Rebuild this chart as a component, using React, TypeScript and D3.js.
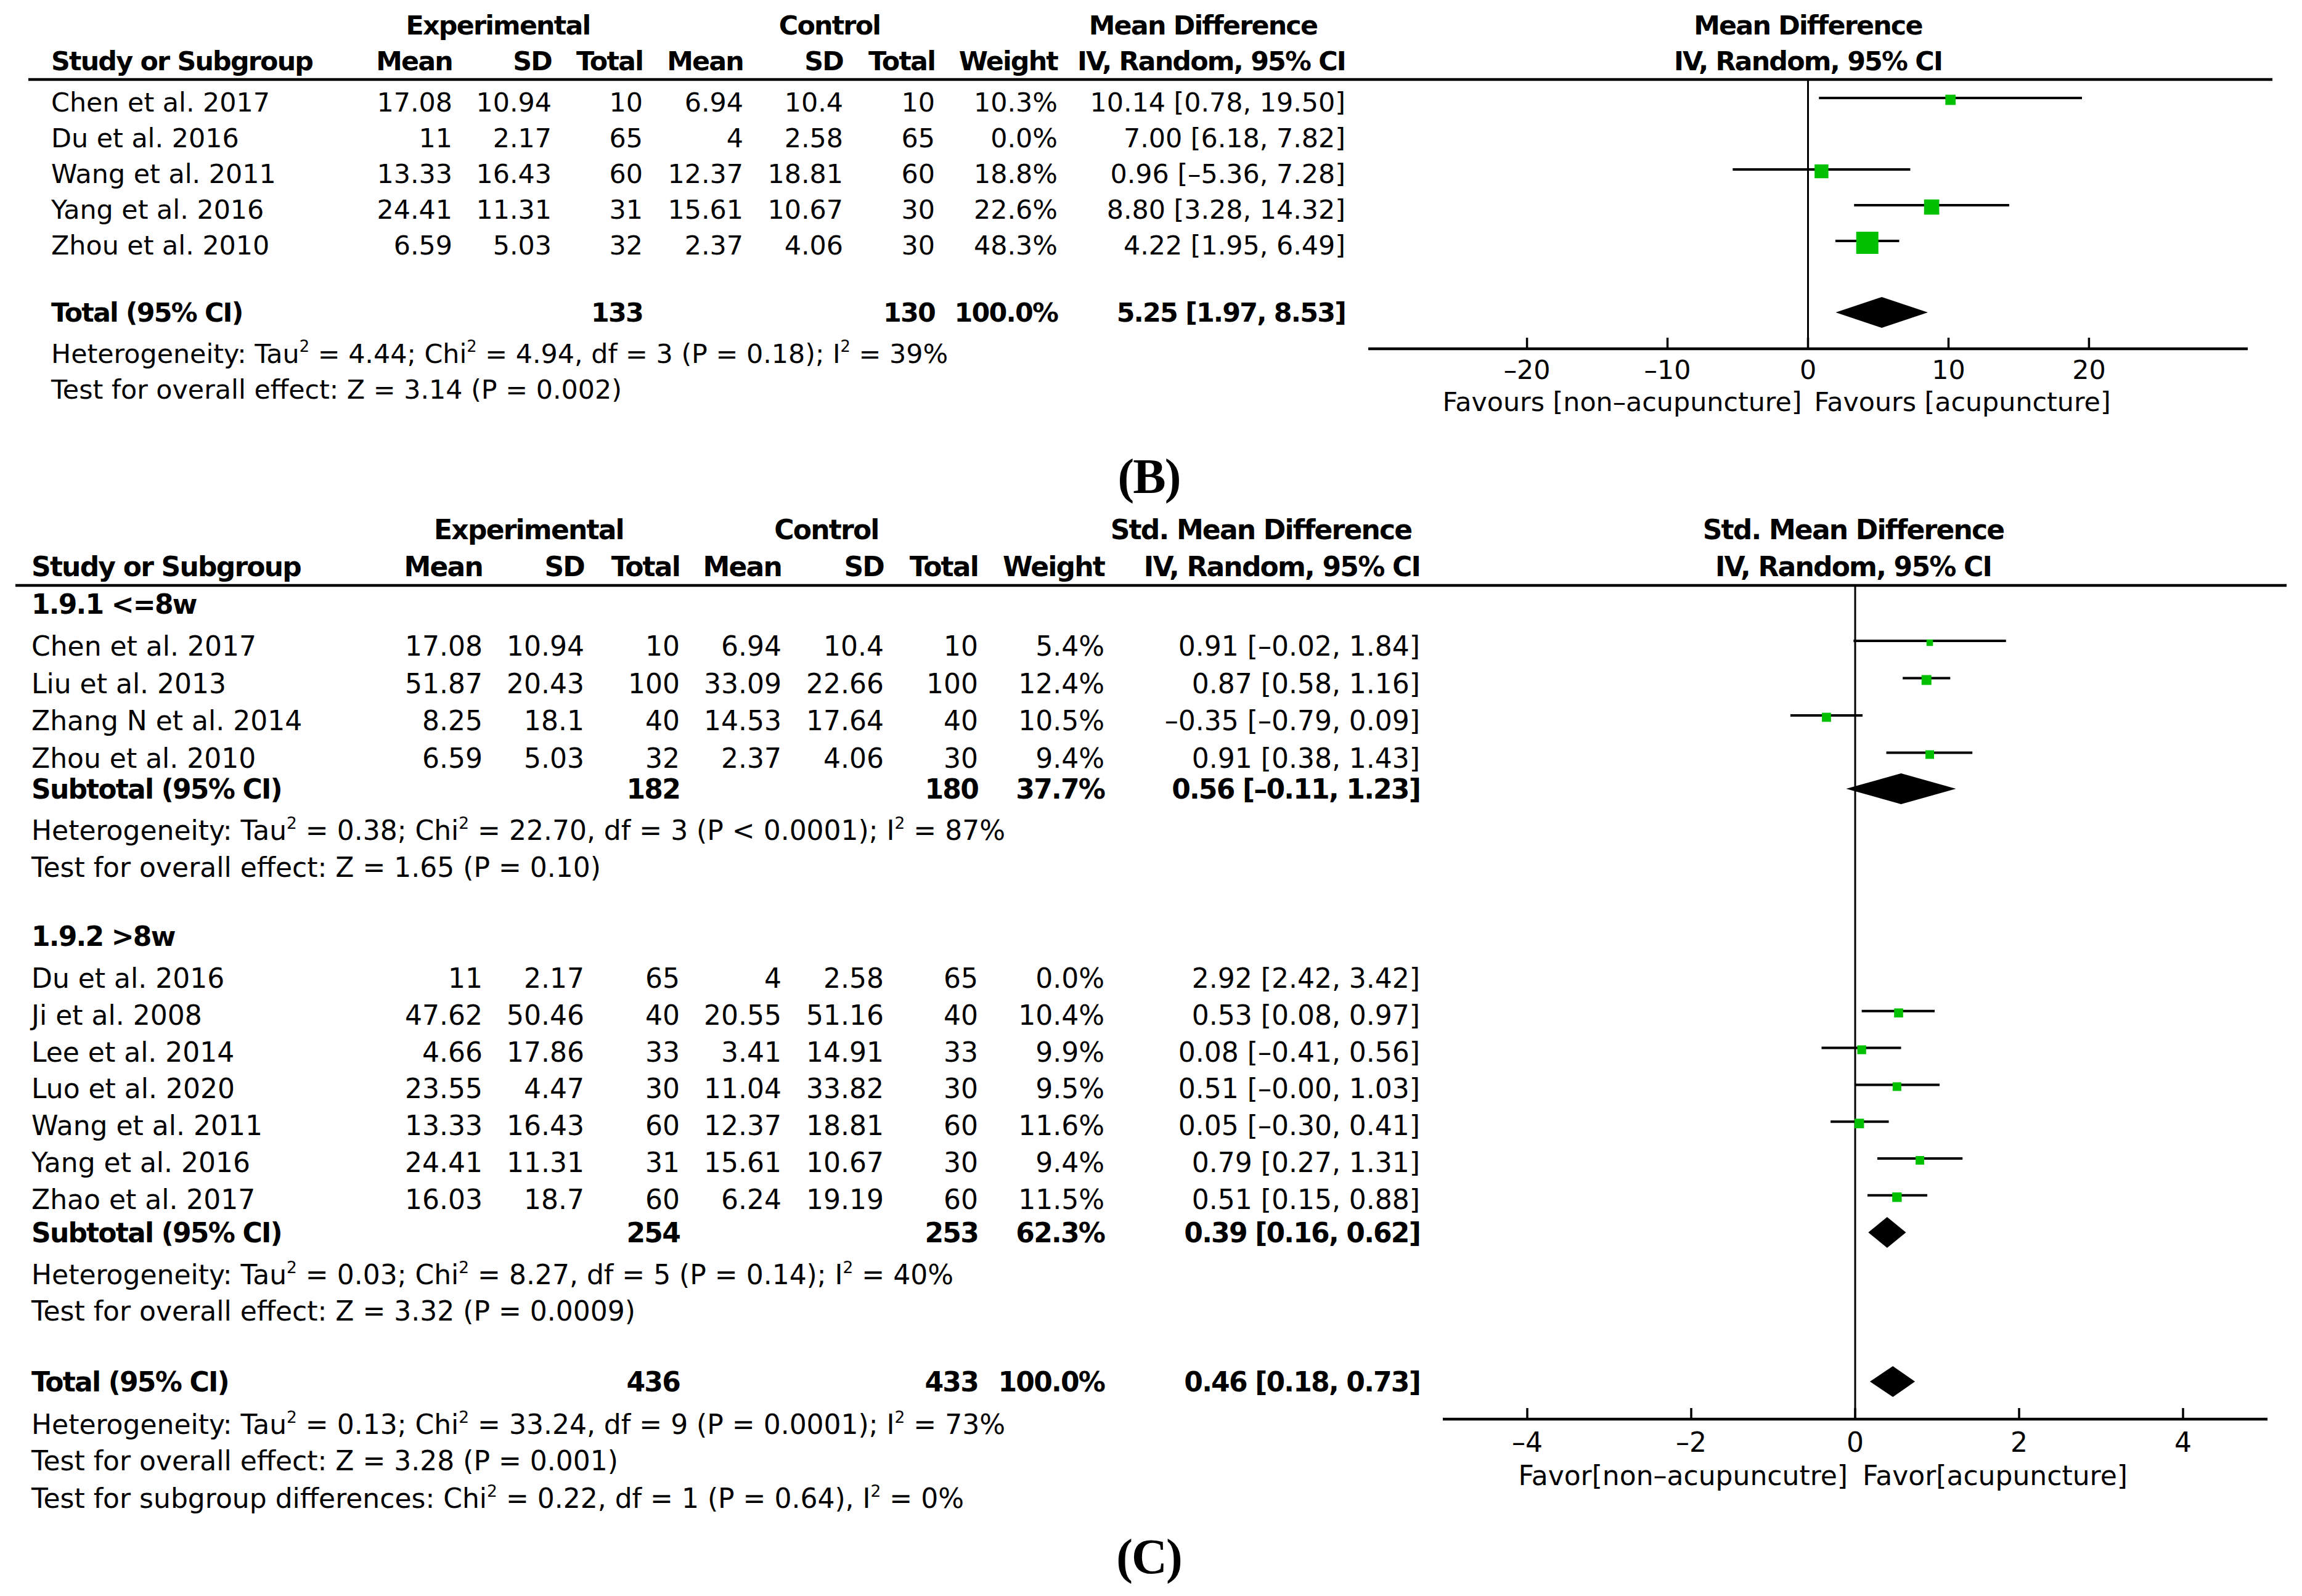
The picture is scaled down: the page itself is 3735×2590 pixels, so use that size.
import React from "react";
import * as d3 from "d3";

const W = 3735;
const H = 2590;
const FONT = "'DejaVu Sans', Verdana, sans-serif";
const GREEN = "#00c000";

// ---------------- Panel B data ----------------
const studiesB = ["Chen et al. 2017", "Du et al. 2016", "Wang et al. 2011", "Yang et al. 2016", "Zhou et al. 2010"];
const expMeanB = [17.08, 11, 13.33, 24.41, 6.59];
const expSDB = [10.94, 2.17, 16.43, 11.31, 5.03];
const expNB = [10, 65, 60, 31, 32];
const ctlMeanB = [6.94, 4, 12.37, 15.61, 2.37];
const ctlSDB = [10.4, 2.58, 18.81, 10.67, 4.06];
const ctlNB = [10, 65, 60, 30, 30];
const weightB = [10.3, 0.0, 18.8, 22.6, 48.3];
const mdB = [10.14, 7.0, 0.96, 8.8, 4.22];
const loB = [0.78, 6.18, -5.36, 3.28, 1.95];
const hiB = [19.5, 7.82, 7.28, 14.32, 6.49];
const totalB = { expN: 133, ctlN: 130, weight: 100.0, md: 5.25, lo: 1.97, hi: 8.53 };
const hetB = "Heterogeneity: Tau² = 4.44; Chi² = 4.94, df = 3 (P = 0.18); I² = 39%";
const testB = "Test for overall effect: Z = 3.14 (P = 0.002)";
const ticksB = [-20, -10, 0, 10, 20];
const domainB: [number, number] = [-31.3, 31.3];
const favLeftB = "Favours [non–acupuncture]";
const favRightB = "Favours [acupuncture]";

// ---------------- Panel C data ----------------
const group1Label = "1.9.1 <=8w";
const studiesC1 = ["Chen et al. 2017", "Liu et al. 2013", "Zhang N et al. 2014", "Zhou et al. 2010"];
const expMeanC1 = [17.08, 51.87, 8.25, 6.59];
const expSDC1 = [10.94, 20.43, 18.1, 5.03];
const expNC1 = [10, 100, 40, 32];
const ctlMeanC1 = [6.94, 33.09, 14.53, 2.37];
const ctlSDC1 = [10.4, 22.66, 17.64, 4.06];
const ctlNC1 = [10, 100, 40, 30];
const weightC1 = [5.4, 12.4, 10.5, 9.4];
const smdC1 = [0.91, 0.87, -0.35, 0.91];
const loC1 = [-0.02, 0.58, -0.79, 0.38];
const hiC1 = [1.84, 1.16, 0.09, 1.43];
const subC1 = { expN: 182, ctlN: 180, weight: 37.7, md: 0.56, lo: -0.11, hi: 1.23 };
const hetC1 = "Heterogeneity: Tau² = 0.38; Chi² = 22.70, df = 3 (P < 0.0001); I² = 87%";
const testC1 = "Test for overall effect: Z = 1.65 (P = 0.10)";

const group2Label = "1.9.2 >8w";
const studiesC2 = ["Du et al. 2016", "Ji et al. 2008", "Lee et al. 2014", "Luo et al. 2020", "Wang et al. 2011", "Yang et al. 2016", "Zhao et al. 2017"];
const expMeanC2 = [11, 47.62, 4.66, 23.55, 13.33, 24.41, 16.03];
const expSDC2 = [2.17, 50.46, 17.86, 4.47, 16.43, 11.31, 18.7];
const expNC2 = [65, 40, 33, 30, 60, 31, 60];
const ctlMeanC2 = [4, 20.55, 3.41, 11.04, 12.37, 15.61, 6.24];
const ctlSDC2 = [2.58, 51.16, 14.91, 33.82, 18.81, 10.67, 19.19];
const ctlNC2 = [65, 40, 33, 30, 60, 30, 60];
const weightC2 = [0.0, 10.4, 9.9, 9.5, 11.6, 9.4, 11.5];
const smdC2 = [2.92, 0.53, 0.08, 0.51, 0.05, 0.79, 0.51];
const loC2 = [2.42, 0.08, -0.41, -0.0, -0.3, 0.27, 0.15];
const hiC2 = [3.42, 0.97, 0.56, 1.03, 0.41, 1.31, 0.88];
const subC2 = { expN: 254, ctlN: 253, weight: 62.3, md: 0.39, lo: 0.16, hi: 0.62 };
const hetC2 = "Heterogeneity: Tau² = 0.03; Chi² = 8.27, df = 5 (P = 0.14); I² = 40%";
const testC2 = "Test for overall effect: Z = 3.32 (P = 0.0009)";

const totalC = { expN: 436, ctlN: 433, weight: 100.0, md: 0.46, lo: 0.18, hi: 0.73 };
const hetC = "Heterogeneity: Tau² = 0.13; Chi² = 33.24, df = 9 (P = 0.0001); I² = 73%";
const testC = "Test for overall effect: Z = 3.28 (P = 0.001)";
const subgroupC = "Test for subgroup differences: Chi² = 0.22, df = 1 (P = 0.64), I² = 0%";
const ticksC = [-4, -2, 0, 2, 4];
const domainC: [number, number] = [-5.03, 5.03];
const favLeftC = "Favor[non–acupuncutre]";
const favRightC = "Favor[acupuncture]";

// ---------------- helpers ----------------
const fmt2 = (v: number) => (v < 0 || Object.is(v, -0) ? "–" : "") + Math.abs(v).toFixed(2);
const ciText = (m: number, lo: number, hi: number) => `${fmt2(m)} [${fmt2(lo)}, ${fmt2(hi)}]`;
const tickFmt = (v: number) => (v < 0 ? "–" + Math.abs(v) : String(v));

function T(props: {
  x: number; y: number; text: string; size: number; bold?: boolean;
  anchor?: "start" | "middle" | "end"; family?: string;
}) {
  const { x, y, text, size, bold, anchor = "start", family = FONT } = props;
  const parts = text.split("²");
  const sup = Math.round(size * 0.42);
  const children: React.ReactNode[] = [];
  parts.forEach((p, i) => {
    if (i > 0) {
      children.push(
        <tspan key={"s" + i} dy={-sup} fontSize={size * 0.6}>2</tspan>
      );
      children.push(<tspan key={"p" + i} dy={sup}>{p}</tspan>);
    } else {
      children.push(<tspan key={"p" + i}>{p}</tspan>);
    }
  });
  return (
    <text
      x={x}
      y={y}
      fontFamily={family}
      fontSize={size}
      fontWeight={bold ? "bold" : "normal"}
      letterSpacing={bold ? -1.8 : 0}
      textAnchor={anchor}
      fill="#000"
    >
      {children}
    </text>
  );
}

function Diamond({ x, y, lo, mid, hi }: { x: d3.ScaleLinear<number, number>; y: number; lo: number; mid: number; hi: number }) {
  const h = 25;
  const p = d3.path();
  p.moveTo(x(lo), y);
  p.lineTo(x(mid), y - h);
  p.lineTo(x(hi), y);
  p.lineTo(x(mid), y + h);
  p.closePath();
  return <path d={p.toString()} fill="#000" />;
}

function StudyMark({ x, y, lo, mid, hi, w, size }: any) {
  if (w <= 0) return null;
  const s = size(w);
  return (
    <g>
      <line x1={x(lo)} x2={x(hi)} y1={y} y2={y} stroke="#000" strokeWidth={4} />
      <rect x={x(mid) - s / 2} y={y + 3 - s / 2} width={s} height={s} fill={GREEN} />
    </g>
  );
}

type Cols = { study: number; expMean: number; expSD: number; expN: number; ctlMean: number; ctlSD: number; ctlN: number; weight: number; ci: number };

function StudyRow({ cols, y, fs, name, em, es, en, cm, cs, cn, w, m, lo, hi }: any) {
  return (
    <g>
      <T x={cols.study} y={y} text={name} size={fs} />
      <T x={cols.expMean} y={y} text={String(em)} size={fs} anchor="end" />
      <T x={cols.expSD} y={y} text={String(es)} size={fs} anchor="end" />
      <T x={cols.expN} y={y} text={String(en)} size={fs} anchor="end" />
      <T x={cols.ctlMean} y={y} text={String(cm)} size={fs} anchor="end" />
      <T x={cols.ctlSD} y={y} text={String(cs)} size={fs} anchor="end" />
      <T x={cols.ctlN} y={y} text={String(cn)} size={fs} anchor="end" />
      <T x={cols.weight} y={y} text={w.toFixed(1) + "%"} size={fs} anchor="end" />
      <T x={cols.ci} y={y} text={ciText(m, lo, hi)} size={fs} anchor="end" />
    </g>
  );
}

function SumRow({ cols, y, fs, label, d }: any) {
  return (
    <g>
      <T x={cols.study} y={y} text={label} size={fs} bold />
      <T x={cols.expN} y={y} text={String(d.expN)} size={fs} bold anchor="end" />
      <T x={cols.ctlN} y={y} text={String(d.ctlN)} size={fs} bold anchor="end" />
      <T x={cols.weight} y={y} text={d.weight.toFixed(1) + "%"} size={fs} bold anchor="end" />
      <T x={cols.ci} y={y} text={ciText(d.md, d.lo, d.hi)} size={fs} bold anchor="end" />
    </g>
  );
}

function Header({ cols, y1, y2, fs, expC, ctlC, ciC, plotC, effect }: any) {
  return (
    <g>
      <T x={expC} y={y1} text="Experimental" size={fs} bold anchor="middle" />
      <T x={ctlC} y={y1} text="Control" size={fs} bold anchor="middle" />
      <T x={ciC} y={y1} text={effect} size={fs} bold anchor="middle" />
      <T x={plotC} y={y1} text={effect} size={fs} bold anchor="middle" />
      <T x={cols.study} y={y2} text="Study or Subgroup" size={fs} bold />
      <T x={cols.expMean} y={y2} text="Mean" size={fs} bold anchor="end" />
      <T x={cols.expSD} y={y2} text="SD" size={fs} bold anchor="end" />
      <T x={cols.expN} y={y2} text="Total" size={fs} bold anchor="end" />
      <T x={cols.ctlMean} y={y2} text="Mean" size={fs} bold anchor="end" />
      <T x={cols.ctlSD} y={y2} text="SD" size={fs} bold anchor="end" />
      <T x={cols.ctlN} y={y2} text="Total" size={fs} bold anchor="end" />
      <T x={cols.weight} y={y2} text="Weight" size={fs} bold anchor="end" />
      <T x={cols.ci} y={y2} text="IV, Random, 95% CI" size={fs} bold anchor="end" />
      <T x={plotC} y={y2} text="IV, Random, 95% CI" size={fs} bold anchor="middle" />
    </g>
  );
}

function Axis({ x, ticks, y, labelY, favY, favL, favR, fs, gap }: any) {
  const [r0, r1] = x.range();
  return (
    <g>
      <line x1={r0} x2={r1} y1={y} y2={y} stroke="#000" strokeWidth={4.5} />
      {ticks.map((t: number) => (
        <g key={t}>
          <line x1={x(t)} x2={x(t)} y1={y - 18} y2={y} stroke="#000" strokeWidth={3.5} />
          <T x={x(t)} y={labelY} text={tickFmt(t)} size={fs} anchor="middle" />
        </g>
      ))}
      <T x={x(0) - gap} y={favY} text={favL} size={fs} anchor="end" />
      <T x={x(0) + gap} y={favY} text={favR} size={fs} anchor="start" />
    </g>
  );
}

function PanelB() {
  const fs = 42.8;
  const cols: Cols = { study: 83, expMean: 734, expSD: 895, expN: 1043, ctlMean: 1206, ctlSD: 1368, ctlN: 1517, weight: 1716, ci: 2183 };
  const x = d3.scaleLinear().domain(domainB).range([2220, 3647]);
  const size = d3.scaleSqrt().domain([0, d3.max(weightB) as number]).range([0, 36]);
  const rowY = d3.scaleLinear().domain([0, 1]).range([181, 239]);
  const totalY = 522;
  const headLine = 129;
  const axisY = 566;
  return (
    <g>
      <Header cols={cols} y1={56} y2={114} fs={fs} expC={808} ctlC={1346} ciC={1952} plotC={x(0)} effect="Mean Difference" />
      <line x1={46} x2={3687} y1={headLine} y2={headLine} stroke="#000" strokeWidth={4.5} />
      {studiesB.map((s, i) => (
        <StudyRow key={s} cols={cols} y={rowY(i)} fs={fs} name={s}
          em={expMeanB[i]} es={expSDB[i]} en={expNB[i]} cm={ctlMeanB[i]} cs={ctlSDB[i]} cn={ctlNB[i]}
          w={weightB[i]} m={mdB[i]} lo={loB[i]} hi={hiB[i]} />
      ))}
      <SumRow cols={cols} y={totalY} fs={fs} label="Total (95% CI)" d={totalB} />
      <T x={cols.study} y={589} text={hetB} size={fs} />
      <T x={cols.study} y={647} text={testB} size={fs} />
      <line x1={x(0)} x2={x(0)} y1={headLine} y2={axisY} stroke="#000" strokeWidth={3} />
      {studiesB.map((s, i) => (
        <StudyMark key={s} x={x} y={rowY(i) - 22} lo={loB[i]} mid={mdB[i]} hi={hiB[i]} w={weightB[i]} size={size} />
      ))}
      <Diamond x={x} y={totalY - 15} lo={totalB.lo} mid={totalB.md} hi={totalB.hi} />
      <Axis x={x} ticks={ticksB} y={axisY} labelY={615} favY={667} favL={favLeftB} favR={favRightB} fs={fs} gap={10} />
    </g>
  );
}

function PanelC() {
  const fs = 44;
  const cols: Cols = { study: 51, expMean: 783, expSD: 948, expN: 1103, ctlMean: 1268, ctlSD: 1434, ctlN: 1587, weight: 1792, ci: 2304 };
  const x = d3.scaleLinear().domain(domainC).range([2341, 3679]);
  const size = d3.scaleSqrt().domain([0, d3.max([...weightC1, ...weightC2]) as number]).range([0, 16]);
  const headLine = 950;
  const axisY = 2303;
  const g1Y = 996;
  const row1 = d3.scaleLinear().domain([0, 1]).range([1064, 1124.5]);
  const sub1Y = 1296;
  const g2Y = 1535;
  const row2 = d3.scaleLinear().domain([0, 1]).range([1603, 1662.8]);
  const sub2Y = 2016;
  const totY = 2258;
  return (
    <g>
      <Header cols={cols} y1={875} y2={935} fs={fs} expC={858} ctlC={1341} ciC={2046} plotC={x(0) - 3} effect="Std. Mean Difference" />
      <line x1={25} x2={3710} y1={headLine} y2={headLine} stroke="#000" strokeWidth={4.5} />
      <T x={cols.study} y={g1Y} text={group1Label} size={fs} bold />
      {studiesC1.map((s, i) => (
        <StudyRow key={s} cols={cols} y={row1(i)} fs={fs} name={s}
          em={expMeanC1[i]} es={expSDC1[i]} en={expNC1[i]} cm={ctlMeanC1[i]} cs={ctlSDC1[i]} cn={ctlNC1[i]}
          w={weightC1[i]} m={smdC1[i]} lo={loC1[i]} hi={hiC1[i]} />
      ))}
      <SumRow cols={cols} y={sub1Y} fs={fs} label="Subtotal (95% CI)" d={subC1} />
      <T x={cols.study} y={1363} text={hetC1} size={fs} />
      <T x={cols.study} y={1423} text={testC1} size={fs} />
      <T x={cols.study} y={g2Y} text={group2Label} size={fs} bold />
      {studiesC2.map((s, i) => (
        <StudyRow key={s} cols={cols} y={row2(i)} fs={fs} name={s}
          em={expMeanC2[i]} es={expSDC2[i]} en={expNC2[i]} cm={ctlMeanC2[i]} cs={ctlSDC2[i]} cn={ctlNC2[i]}
          w={weightC2[i]} m={smdC2[i]} lo={loC2[i]} hi={hiC2[i]} />
      ))}
      <SumRow cols={cols} y={sub2Y} fs={fs} label="Subtotal (95% CI)" d={subC2} />
      <T x={cols.study} y={2084} text={hetC2} size={fs} />
      <T x={cols.study} y={2143} text={testC2} size={fs} />
      <SumRow cols={cols} y={totY} fs={fs} label="Total (95% CI)" d={totalC} />
      <T x={cols.study} y={2327} text={hetC} size={fs} />
      <T x={cols.study} y={2386} text={testC} size={fs} />
      <T x={cols.study} y={2447} text={subgroupC} size={fs} />
      <line x1={x(0)} x2={x(0)} y1={headLine} y2={axisY} stroke="#000" strokeWidth={3} />
      {studiesC1.map((s, i) => (
        <StudyMark key={s} x={x} y={row1(i) - 24} lo={loC1[i]} mid={smdC1[i]} hi={hiC1[i]} w={weightC1[i]} size={size} />
      ))}
      {studiesC2.map((s, i) => (
        <StudyMark key={s} x={x} y={row2(i) - 22} lo={loC2[i]} mid={smdC2[i]} hi={hiC2[i]} w={weightC2[i]} size={size} />
      ))}
      <Diamond x={x} y={sub1Y - 16} lo={subC1.lo} mid={subC1.md} hi={subC1.hi} />
      <Diamond x={x} y={sub2Y - 16} lo={subC2.lo} mid={subC2.md} hi={subC2.hi} />
      <Diamond x={x} y={totY - 16} lo={totalC.lo} mid={totalC.md} hi={totalC.hi} />
      <Axis x={x} ticks={ticksC} y={axisY} labelY={2356} favY={2410} favL={favLeftC} favR={favRightC} fs={fs} gap={12} />
    </g>
  );
}

export default function App() {
  return (
    <svg
      width={W}
      height={H}
      viewBox={`0 0 ${W} ${H}`}
      style={{ position: "absolute", left: 0, top: 0, display: "block", background: "#fff" }}
    >
      <rect x={0} y={0} width={W} height={H} fill="#fff" />
      <PanelB />
      <T x={1864} y={800} text="(B)" size={80} bold family="'Liberation Serif', 'DejaVu Serif', serif" anchor="middle" />
      <PanelC />
      <T x={1864} y={2553} text="(C)" size={80} bold family="'Liberation Serif', 'DejaVu Serif', serif" anchor="middle" />
    </svg>
  );
}
